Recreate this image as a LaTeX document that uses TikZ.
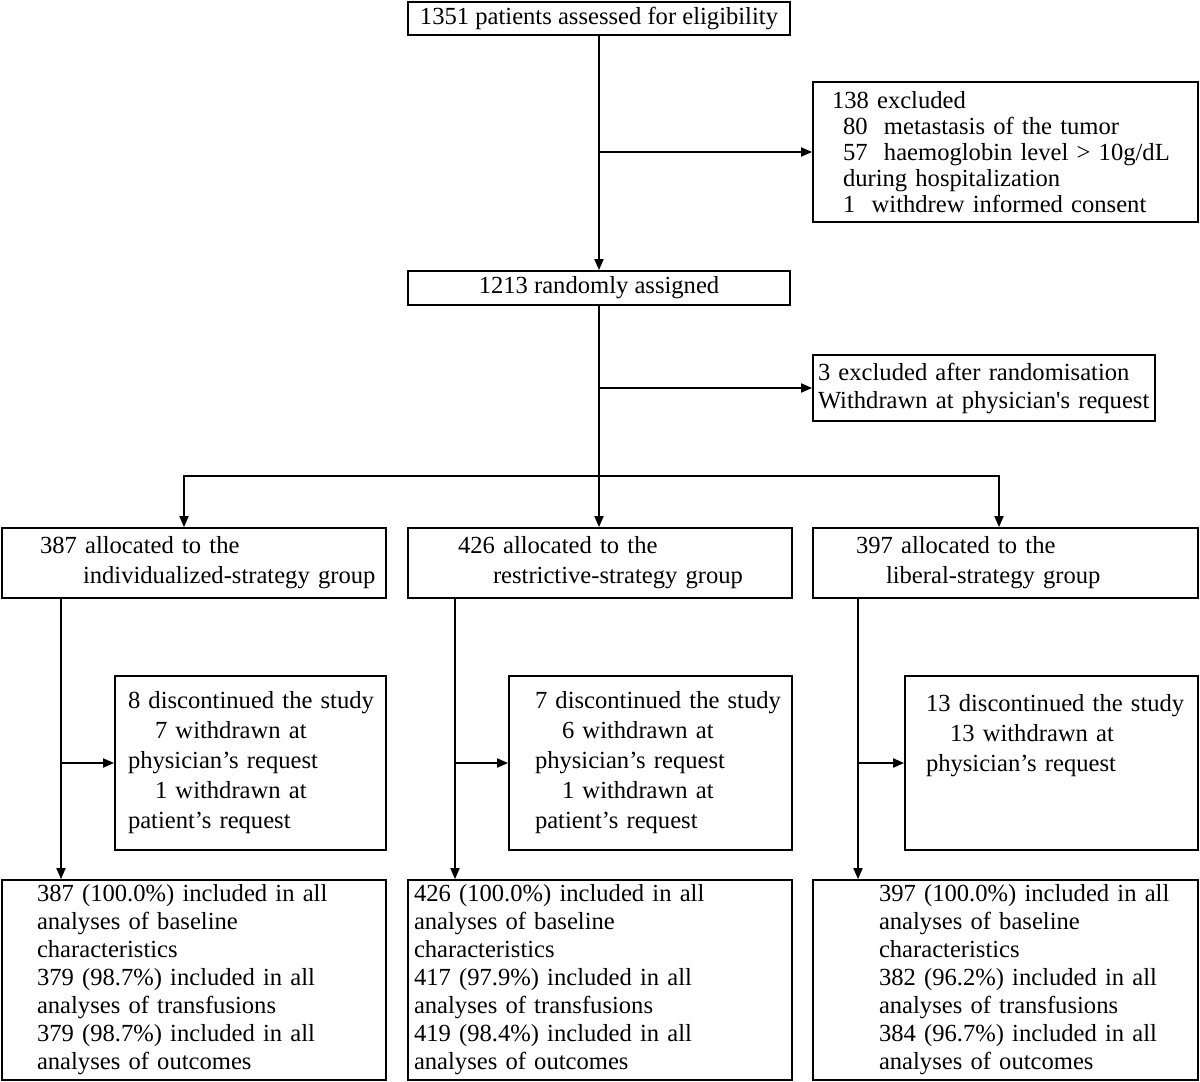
\documentclass[tikz,border=0pt]{standalone}
\usepackage{fontspec}
\setmainfont{Liberation Serif}
\usetikzlibrary{arrows.meta}
\begin{document}
\begin{tikzpicture}[x=0.5pt,y=-0.5pt,
  box/.style={draw, line width=0.9pt, inner xsep=0pt, inner ysep=0pt},
  pbox/.style n args={4}{box, align=left, minimum width=#1, text width=#2, minimum height=#3, font=\fontsize{12.3pt}{#4}\selectfont},
  cbox/.style n args={2}{box, align=center, minimum width=#1, minimum height=#2, font=\fontsize{12.3pt}{15pt}\selectfont},
  ln/.style={line width=0.9pt},
  arr/.style={line width=0.9pt, -{Triangle[length=5.5pt,width=4.5pt]}}]
\useasboundingbox (0,0) rectangle (1200,1082);

% top row
\node[cbox={191pt}{16.5pt}] (top) at (599,18.5) {1351 patients assessed for eligibility};
\node[pbox={192.5pt}{173.5pt}{70pt}{13pt}] (excl1) at (1005.5,152) {\mbox{138 excluded}\\
\mbox{\hspace*{5.5pt}80\ \ metastasis of the tumor}\\
\mbox{\hspace*{5.5pt}57\ \ haemoglobin level > 10g/dL}\\
\mbox{\hspace*{5.5pt}during hospitalization}\\
\mbox{\hspace*{5.5pt}1\ \ withdrew informed consent}};
\node[cbox={191pt}{17pt}] (r1213) at (599,288) {1213 randomly assigned};
\node[pbox={171pt}{166pt}{33pt}{14pt}] (excl2) at (984,388) {\mbox{3 excluded after randomisation}\\
\mbox{Withdrawn at physician\textquotesingle s request}};

% group boxes
\node[pbox={192pt}{154pt}{35pt}{15pt}] (g1) at (194,563) {\mbox{387 allocated to the}\\
\mbox{\hspace*{21.5pt}individualized-strategy group}};
\node[pbox={192pt}{142pt}{35pt}{15pt}] (g2) at (600,563) {\mbox{426 allocated to the}\\
\mbox{\hspace*{17.5pt}restrictive-strategy group}};
\node[pbox={192.5pt}{149.5pt}{35pt}{15pt}] (g3) at (1005.5,563) {\mbox{397 allocated to the}\\
\mbox{\hspace*{15pt}liberal-strategy group}};

% discontinued boxes
\node[pbox={135.5pt}{122.5pt}{87pt}{15pt}] (d1) at (250.5,763) {\mbox{8 discontinued the study}\\
\mbox{\hspace*{13.5pt}7 withdrawn at}\\
\mbox{physician’s request}\\
\mbox{\hspace*{13.5pt}1 withdrawn at}\\
\mbox{patient’s request}};
\node[pbox={141.5pt}{115.5pt}{87pt}{15pt}] (d2) at (650.5,763) {\mbox{7 discontinued the study}\\
\mbox{\hspace*{13.5pt}6 withdrawn at}\\
\mbox{physician’s request}\\
\mbox{\hspace*{13.5pt}1 withdrawn at}\\
\mbox{patient’s request}};
\node[pbox={146.5pt}{125.5pt}{87pt}{15pt}] (d3) at (1051.5,763) {\mbox{13 discontinued the study}\\
\mbox{\hspace*{12pt}13 withdrawn at}\\
\mbox{physician’s request}\\
\mbox{}\\
\mbox{}};

% bottom boxes
\node[pbox={192pt}{157pt}{100pt}{14pt}] (b1) at (194,980) {\mbox{387 (100.0\%) included in all}\\
\mbox{analyses of baseline}\\
\mbox{characteristics}\\
\mbox{379 (98.7\%) included in all}\\
\mbox{analyses of transfusions}\\
\mbox{379 (98.7\%) included in all}\\
\mbox{analyses of outcomes}};
\node[pbox={192pt}{186pt}{100pt}{14pt}] (b2) at (600,980) {\mbox{426 (100.0\%) included in all}\\
\mbox{analyses of baseline}\\
\mbox{characteristics}\\
\mbox{417 (97.9\%) included in all}\\
\mbox{analyses of transfusions}\\
\mbox{419 (98.4\%) included in all}\\
\mbox{analyses of outcomes}};
\node[pbox={192.5pt}{126.5pt}{100pt}{14pt}] (b3) at (1005.5,980) {\mbox{397 (100.0\%) included in all}\\
\mbox{analyses of baseline}\\
\mbox{characteristics}\\
\mbox{382 (96.2\%) included in all}\\
\mbox{analyses of transfusions}\\
\mbox{384 (96.7\%) included in all}\\
\mbox{analyses of outcomes}};

% helper coordinates
\coordinate (bl) at (184,476);
\coordinate (brr) at (999,476);
\coordinate (v1) at (61,0);
\coordinate (v2) at (455,0);
\coordinate (v3) at (858,0);

% connectors
\draw[arr] (top) -- (r1213);
\draw[arr] (top.south |- excl1.west) -- (excl1.west);
\draw[arr] (r1213.south) -- (r1213.south |- g2.north);
\draw[arr] (r1213.south |- excl2.west) -- (excl2.west);
\draw[arr] (r1213.south |- bl) -- (bl) -- (bl |- g1.north);
\draw[arr] (r1213.south |- brr) -- (brr) -- (brr |- g3.north);

\draw[arr] (g1.south -| v1) -- (b1.north -| v1);
\draw[arr] (v1 |- d1.west) -- (d1.west);
\draw[arr] (g2.south -| v2) -- (b2.north -| v2);
\draw[arr] (v2 |- d2.west) -- (d2.west);
\draw[arr] (g3.south -| v3) -- (b3.north -| v3);
\draw[arr] (v3 |- d3.west) -- (d3.west);
\end{tikzpicture}
\end{document}
